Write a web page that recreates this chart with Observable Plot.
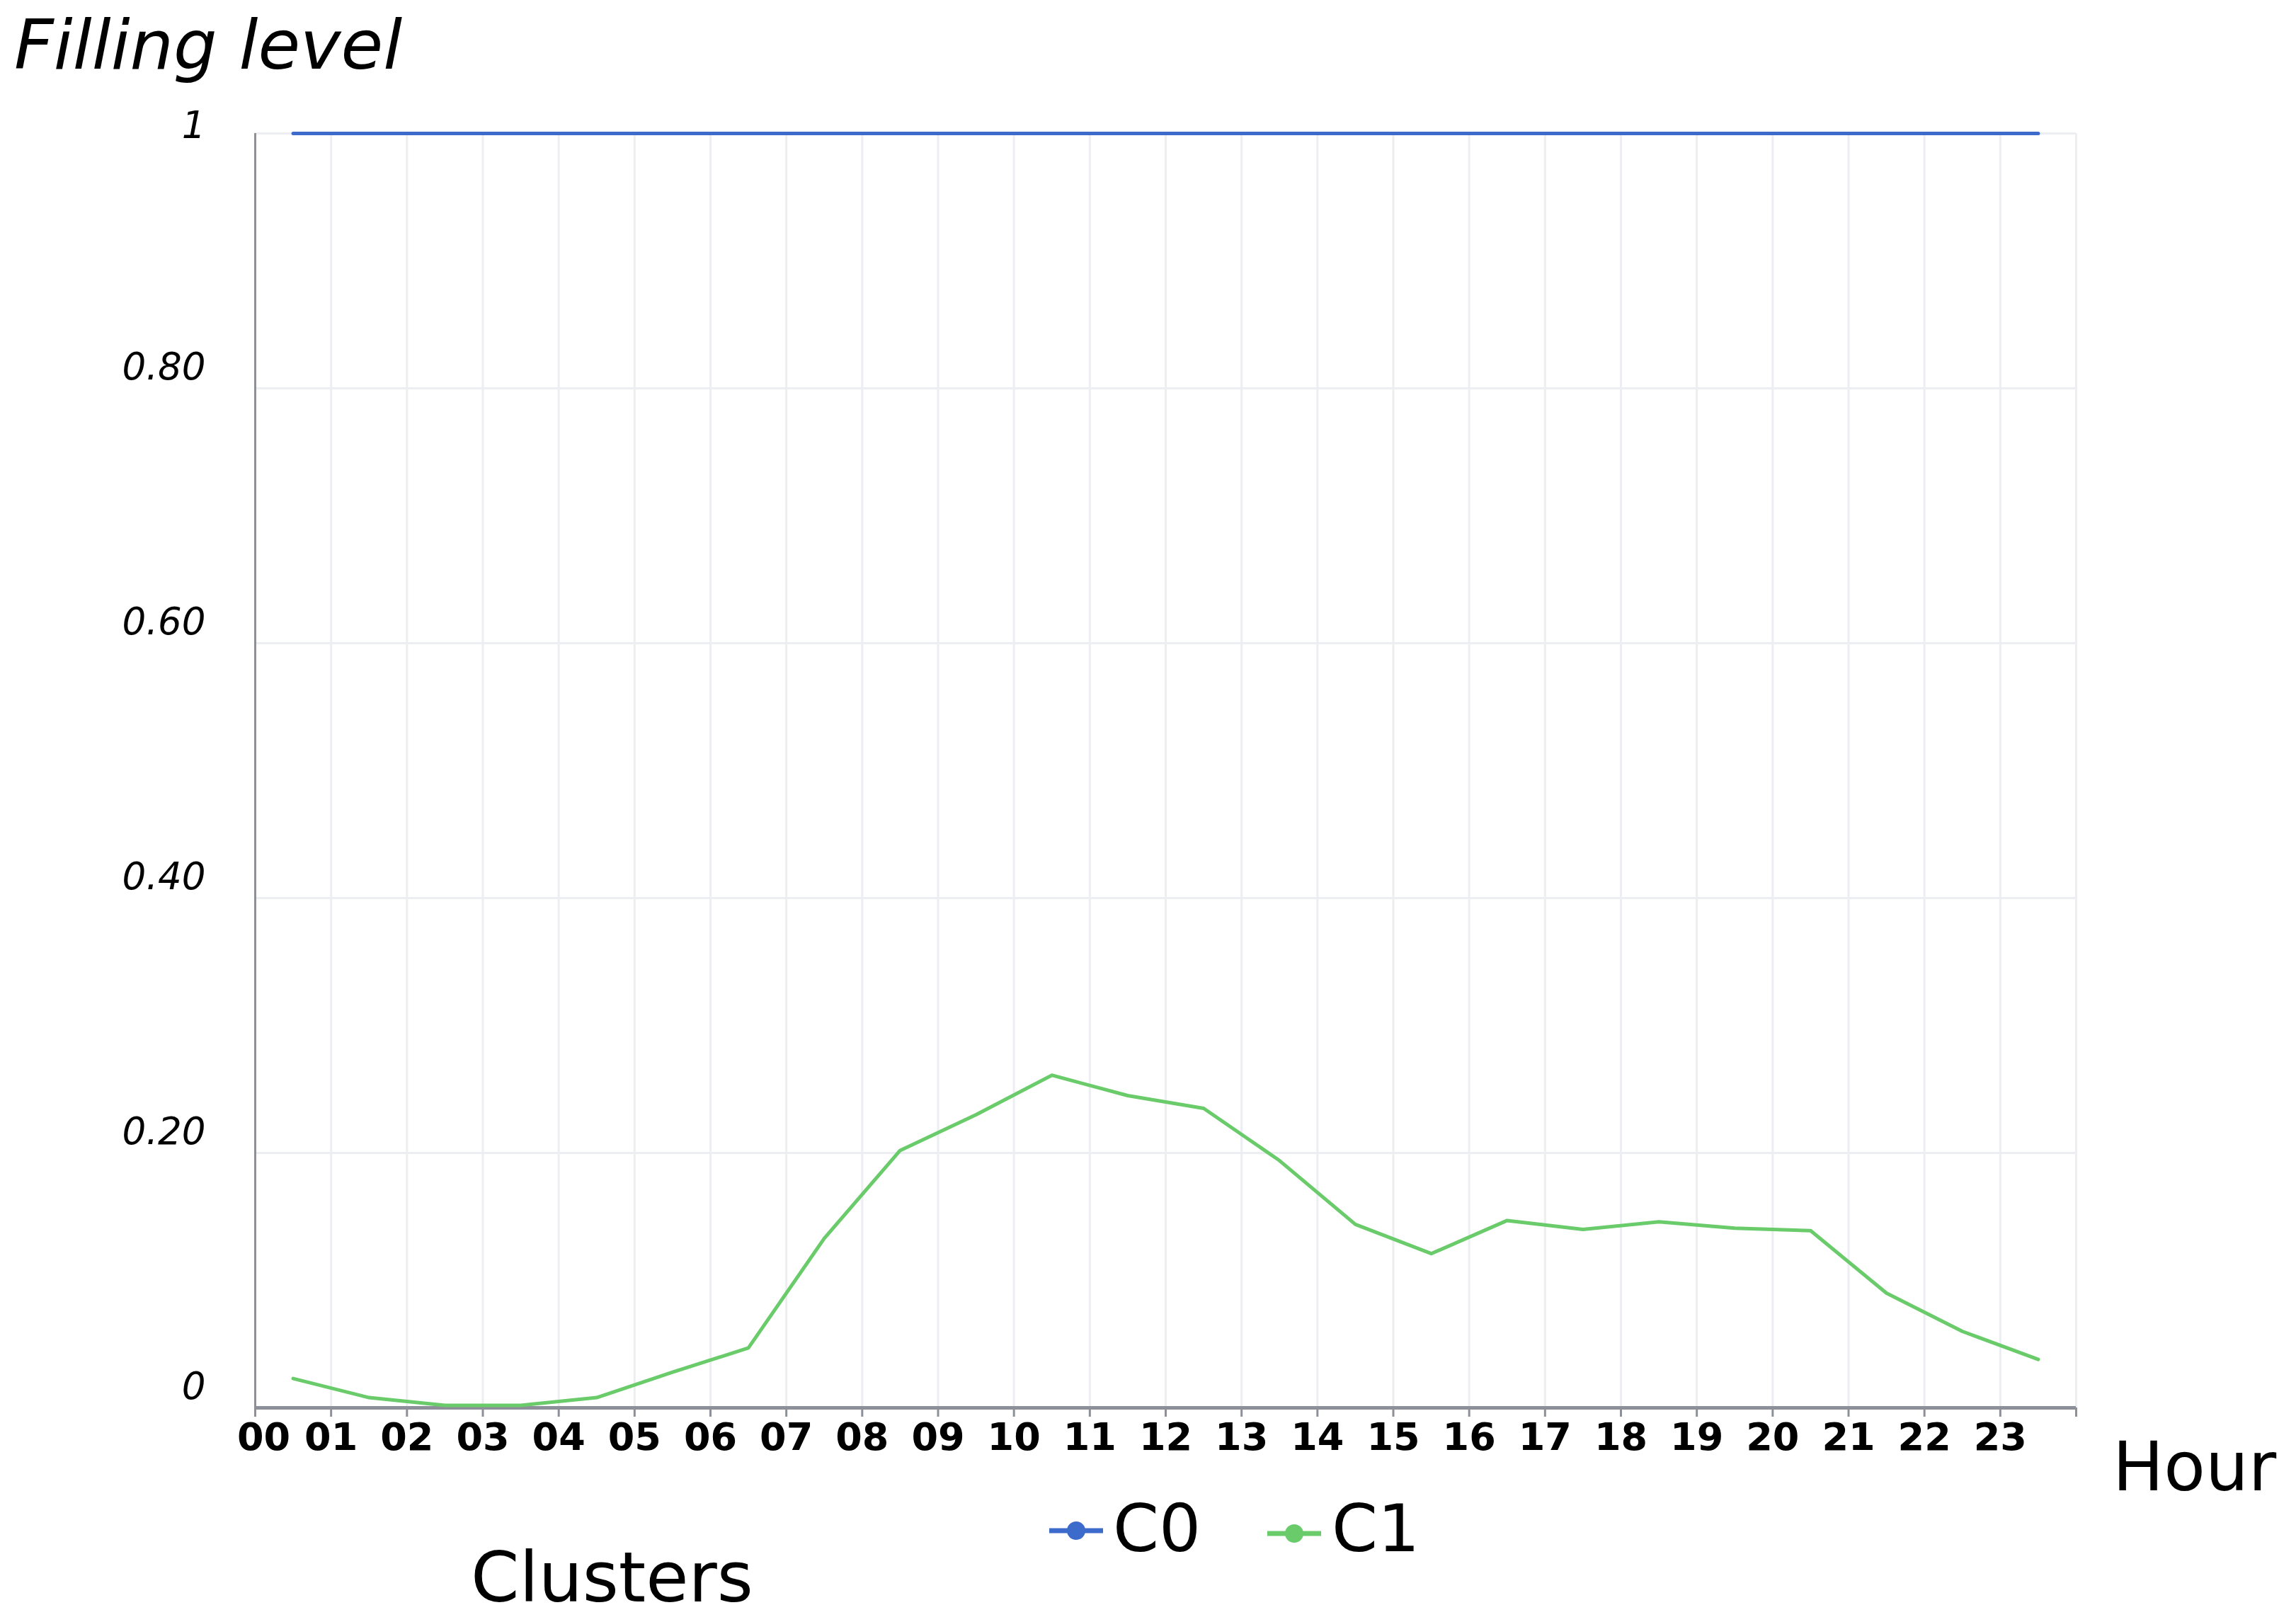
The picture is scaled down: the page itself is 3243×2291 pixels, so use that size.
<!DOCTYPE html>
<html><head><meta charset="utf-8">
<script src="https://cdn.jsdelivr.net/npm/d3@7"></script>
<script src="https://cdn.jsdelivr.net/npm/@observablehq/plot@0.6"></script>
<style>
html,body{margin:0;padding:0;background:#fff;}
#wrap{position:relative;width:3243px;height:2291px;overflow:hidden;font-family:"DejaVu Sans",sans-serif;background:#fff;}
.lab{position:absolute;line-height:1;white-space:nowrap;color:#000;}
</style></head><body>
<div id="wrap">
  <div id="chart" style="position:absolute;left:0;top:0"></div>
  <div class="lab" style="left:20px;top:15px;font-size:97px;font-style:italic">Filling level</div>
  <div class="lab" style="left:2984px;top:2024px;font-size:96px">Hour</div>
  <div class="lab" style="left:665px;top:2179px;font-size:98px">Clusters</div>
  <div id="legend"></div>
</div>
<script>
// ---- data ----
const hours = ["00","01","02","03","04","05","06","07","08","09","10","11","12","13","14","15","16","17","18","19","20","21","22","23"];
const seriesNames = ["C0", "C1"];
const seriesColors = ["#3d6bcc", "#6acb6a"];
const c0 = [1,1,1,1,1,1,1,1,1,1,1,1,1,1,1,1,1,1,1,1,1,1,1,1];
const c1 = [0.023,0.008,0.002,0.002,0.008,0.028,0.047,0.133,0.202,0.230,0.261,0.245,0.235,0.194,0.144,0.121,0.147,0.140,0.146,0.141,0.139,0.090,0.060,0.038];
const yTicks = [0, 0.2, 0.4, 0.6, 0.8, 1];
const yTickLabels = ["0", "0.20", "0.40", "0.60", "0.80", "1"];

// ---- table ----
const seriesValues = [c0, c1];
const rows = seriesNames.flatMap((s, si) => seriesValues[si].map((v, i) => ({series: s, x: i + 0.5, value: v})));
const xTicks = d3.range(hours.length + 1);
const yFmt = d => yTickLabels[yTicks.indexOf(d)];
const xFmt = d => hours[d] ?? "";

const W = 3243, H = 2291;
const gridColor = "#eceef2";
const axisColor = "#8e9099";
const xLabelStyle = {tickSize: 0, tickPadding: 21, tickFormat: xFmt, fontSize: 54, fontWeight: "bold", fill: "#000", label: null};

const chart = Plot.plot({
  width: W, height: H,
  marginLeft: 360, marginRight: 311, marginTop: 188, marginBottom: 303,
  style: {fontFamily: "DejaVu Sans", color: "#000", background: "transparent"},
  x: {type: "linear", domain: [0, hours.length], label: null},
  y: {type: "linear", domain: [0, 1], label: null},
  color: {domain: seriesNames, range: seriesColors},
  marks: [
    Plot.gridX(xTicks, {stroke: gridColor, strokeOpacity: 1, strokeWidth: 3}),
    Plot.gridY(yTicks.filter(d => d > 0), {stroke: gridColor, strokeOpacity: 1, strokeWidth: 3}),
    Plot.axisX(xTicks, {tickSize: 13, tickFormat: () => "", stroke: axisColor, strokeWidth: 3, strokeOpacity: 1, label: null}),
    Plot.axisX(xTicks.filter(d => d === 0), {...xLabelStyle, dx: 12}),
    Plot.axisX(xTicks.filter(d => d > 0), xLabelStyle),
    Plot.axisY(yTicks.filter(d => d === 1), {tickSize: 0, tickPadding: 70, dy: -10, tickFormat: yFmt,
      fontSize: 53, fontStyle: "italic", fill: "#000", label: null}),
    Plot.axisY(yTicks.filter(d => d < 1), {tickSize: 0, tickPadding: 70, dy: -29, tickFormat: yFmt,
      fontSize: 53, fontStyle: "italic", fill: "#000", label: null}),
    Plot.ruleX([0], {stroke: axisColor, strokeWidth: 3}),
    Plot.ruleY([0], {stroke: axisColor, strokeWidth: 5}),
    Plot.line(rows, {x: "x", y: "value", z: "series", stroke: "series", strokeWidth: 5})
  ]
});
document.getElementById("chart").appendChild(chart);

// ---- legend ----
const legend = document.getElementById("legend");
const markerLeft = [1482, 1790], textLeft = [1572, 1881];
seriesNames.forEach((name, i) => {
  const col = seriesColors[i];
  const m = document.createElementNS("http://www.w3.org/2000/svg", "svg");
  m.setAttribute("width", 80); m.setAttribute("height", 34);
  m.style.position = "absolute"; m.style.left = markerLeft[i] + "px"; m.style.top = (2146 + i * 4) + "px";
  m.innerHTML = `<line x1="0" x2="76" y1="16" y2="16" stroke="${col}" stroke-width="7"/><circle cx="38" cy="16" r="13" fill="${col}"/>`;
  legend.appendChild(m);
  const t = document.createElement("div");
  t.className = "lab";
  t.style.left = textLeft[i] + "px"; t.style.top = "2113px"; t.style.fontSize = "93px";
  t.textContent = name;
  legend.appendChild(t);
});
</script>
</body></html>
